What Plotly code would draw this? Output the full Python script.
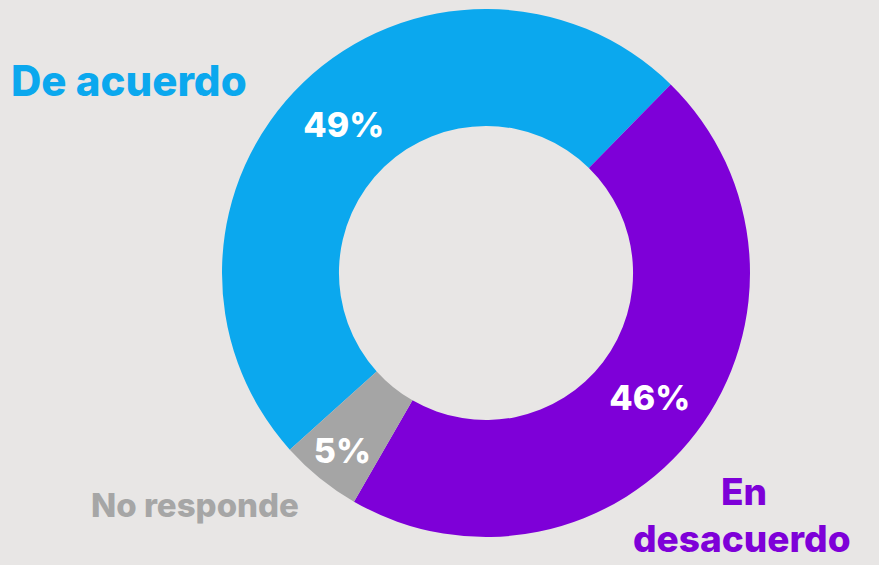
import plotly.graph_objects as go

labels = ["De acuerdo", "En desacuerdo", "No responde"]
values = [49, 46, 5]
text_labels = ["49%", "46%", "5%"]
colors = ["#0BA8EE", "#7E00D8", "#A5A5A5"]

W, H = 879, 565
cx, cy, R = 486, 273, 264

fig = go.Figure(go.Pie(
    labels=labels,
    values=values,
    text=text_labels,
    textinfo="text",
    textposition="inside",
    insidetextorientation="horizontal",
    textfont=dict(family="Inter", size=34, color="white", weight=800),
    marker=dict(colors=colors, line=dict(width=0)),
    hole=0.557,
    sort=False,
    direction="clockwise",
    rotation=228,
    showlegend=False,
    domain=dict(x=[(cx - R) / W, (cx + R) / W], y=[(H - cy - R) / H, (H - cy + R) / H]),
))

def px(x, y):
    return x / W, 1 - y / H

specs = [
    ("De acuerdo", 10, 81, "left", "middle", 42, "#0BA8EE"),
    ("No responde", 90, 505, "left", "middle", 33, "#A6A6A6"),
    ("En", 744, 515, "center", "bottom", 37, "#7E00D8"),
    ("desacuerdo", 742, 515, "center", "top", 37, "#7E00D8"),
]
ann = []
for txt, x0, y0, xa, ya, sz, col in specs:
    x, y = px(x0, y0)
    ann.append(dict(text=txt, x=x, y=y, xanchor=xa, yanchor=ya,
                    xref="paper", yref="paper", showarrow=False, borderpad=0,
                    font=dict(family="Inter", size=sz, color=col, weight=800)))

fig.update_layout(
    width=W, height=H,
    margin=dict(l=0, r=0, t=0, b=0),
    paper_bgcolor="#E8E6E5",
    plot_bgcolor="#E8E6E5",
    annotations=ann,
)

fig.write_html("out.html", config={"displayModeBar": False})
with open("out.html", "r", encoding="utf-8") as f:
    html = f.read()
html = html.replace("<body>", '<body style="margin:0;padding:0;background:#E8E6E5;">', 1)
with open("out.html", "w", encoding="utf-8") as f:
    f.write(html)
